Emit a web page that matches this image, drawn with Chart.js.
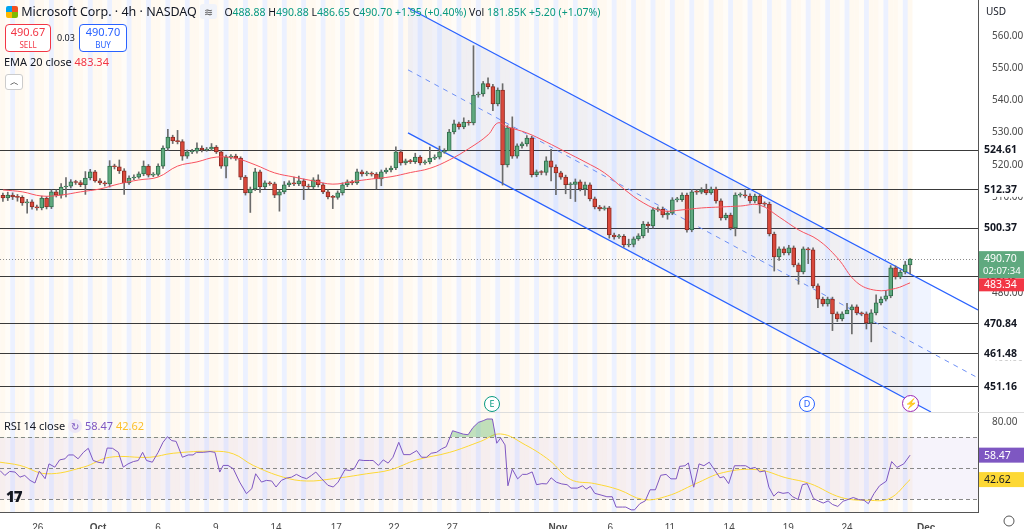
<!DOCTYPE html>
<html><head><meta charset="utf-8">
<script src="https://cdn.jsdelivr.net/npm/chart.js@4.4.1/dist/chart.umd.min.js"></script>
<style>
body{margin:0;width:1024px;height:529px;overflow:hidden;background:#fff;font-family:"Noto Sans",Roboto,sans-serif;position:relative}
#c1{position:absolute;left:0;top:0}
#c2{position:absolute;left:0;top:413px}
.ov{position:absolute;white-space:nowrap}
.g{color:#089981}
</style></head><body>
<canvas id="c1" width="1024" height="413"></canvas>
<canvas id="c2" width="1024" height="116"></canvas>
<div class="ov" style="left:6px;top:3px;font-size:12.5px;color:#131722">
<span style="display:inline-block;width:12px;height:12px;background:conic-gradient(#f25022 0 25%,#7fba00 0 50%,#ffb900 0 75%,#00a4ef 0);vertical-align:-2px;border-radius:2px"></span>
Microsoft Corp. · 4h · NASDAQ <span style="display:inline-block;background:#f0f3fa;border-radius:3px;padding:0 4px;color:#555;font-size:11px">≋</span>
<span style="font-size:10.5px;margin-left:4px">O<span class="g">488.88</span> H<span class="g">490.88</span> L<span class="g">486.65</span> C<span class="g">490.70</span> <span class="g">+1.95 (+0.40%)</span> Vol <span class="g">181.85K</span> <span class="g">+5.20 (+1.07%)</span></span></div>
<div class="ov" style="left:5px;top:24px;width:44px;height:25px;border:1px solid #f23645;border-radius:4px;background:#fff;text-align:center;color:#f23645;font-size:11px;line-height:12px;padding-top:1px">490.67<br><span style="font-size:8px">SELL</span></div>
<div class="ov" style="left:57px;top:31px;font-size:9px;color:#131722">0.03</div>
<div class="ov" style="left:79px;top:24px;width:46px;height:25px;border:1px solid #2962ff;border-radius:4px;background:#fff;text-align:center;color:#2962ff;font-size:11px;line-height:12px;padding-top:1px">490.70<br><span style="font-size:8px">BUY</span></div>
<div class="ov" style="left:4px;top:54px;font-size:11px;color:#131722">EMA 20 close <span style="color:#f23645">483.34</span></div>
<div class="ov" style="left:5px;top:74px;width:16px;height:14px;border:1px solid #ccc;border-radius:3px;background:#fff;font-size:9px;text-align:center;line-height:14px">︿</div>
<div class="ov" style="left:484px;top:396px;width:14px;height:14px;border:1px solid #089981;border-radius:50%;background:#fff;font-size:9px;text-align:center;line-height:14px;color:#089981">E</div>
<div class="ov" style="left:799px;top:396px;width:14px;height:14px;border:1px solid #2962ff;border-radius:50%;background:#fff;font-size:9px;text-align:center;line-height:14px;color:#2962ff">D</div>
<div class="ov" style="left:902px;top:395px;width:15px;height:15px;border:1.5px solid #9c27b0;border-radius:50%;background:#fff;font-size:10px;text-align:center;line-height:15px;color:#e91e63">⚡</div>
<div class="ov" style="left:4px;top:418px;font-size:11px;color:#131722">RSI 14 close <span style="display:inline-block;width:14px;height:14px;border-radius:50%;background:#ede7f6;color:#7e57c2;text-align:center;line-height:14px;font-size:10px">↻</span> <span style="color:#7e57c2">58.47</span> <span style="color:#fbc02d">42.62</span></div>
<div class="ov" style="left:6px;top:486px;font-size:15px;font-weight:900;color:#131722;letter-spacing:-1px">17</div>
<script>
// ---- data ----
const firstOpen = 510.5;
const closes = [509.7,510.6,510.0,509.9,508.2,508.5,506.9,506.6,509.7,506.9,511.6,510.6,513.1,513.4,514.7,514.5,513.8,515.9,517.8,515.0,
514.4,514.1,519.6,519.4,518.1,514.4,515.9,516.2,517.2,519.6,516.8,517.0,519.6,525.2,528.6,527.4,527.2,522.7,524.0,524.2,
525.2,524.6,524.9,525.5,524.0,519.6,522.4,522.7,522.1,516.2,511.3,512.5,517.8,513.1,514.4,514.1,510.6,511.6,513.8,514.4,
514.1,515.0,513.4,513.1,515.3,513.8,511.6,510.0,509.9,511.3,513.8,514.7,514.4,517.8,517.2,517.3,517.1,515.6,517.8,518.4,
519.0,524.0,520.6,521.2,521.0,522.4,520.6,520.9,522.1,522.4,524.0,524.3,530.2,532.7,531.8,533.3,533.0,541.7,542.0,545.2,
544.3,538.9,543.2,520.0,531.5,522.7,525.9,526.5,528.3,516.9,517.8,517.6,521.2,519.3,517.5,516.2,513.8,513.9,514.7,512.5,
513.8,509.4,506.9,506.3,506.6,498.2,497.6,497.8,495.1,495.3,497.0,497.9,501.6,501.0,506.0,506.2,504.4,505.0,509.1,509.2,
510.6,499.8,511.6,511.5,512.2,511.3,512.5,508.8,503.5,504.4,500.4,510.6,510.7,510.3,508.8,510.3,507.9,507.8,498.5,491.4,
493.9,492.6,494.2,488.9,486.7,493.9,493.6,482.4,478.3,476.8,478.3,473.7,472.1,473.7,474.9,475.9,474.0,473.7,470.9,474.0,
477.1,478.3,479.3,488.0,485.2,486.7,488.9,490.7];
const highs = [511.2,511.5,511.3,510.8,510.4,509.3,509.1,507.5,510.3,510.1,512.2,512.2,514.2,516.0,515.4,515.2,515.1,517.9,518.6,518.3,
515.7,514.9,521.3,520.2,521.5,518.8,516.6,516.9,517.8,521.2,520.1,517.6,520.3,525.9,531.0,529.2,530.7,527.8,524.6,524.8,
526.8,525.9,525.4,526.6,526.0,524.5,523.0,523.2,523.3,522.5,516.7,513.1,518.9,518.4,515.0,514.8,514.6,512.1,514.8,515.0,
516.2,516.5,515.6,514.0,516.0,516.9,514.3,512.2,510.5,511.9,514.4,515.3,515.2,518.7,518.4,518.0,517.8,517.6,518.4,519.0,
519.6,525.6,524.6,521.8,521.7,523.6,522.9,521.5,525.5,523.1,525.8,525.0,531.0,533.9,533.3,534.6,533.8,557.0,542.6,545.9,
547.0,545.0,543.9,545.2,532.2,534.9,526.5,527.1,529.1,528.9,518.4,518.2,522.5,524.8,520.0,518.0,516.8,514.5,515.6,515.3,
514.6,514.4,510.0,507.4,507.2,507.1,498.8,498.4,498.3,496.9,497.6,498.6,502.4,502.2,506.7,506.9,506.9,505.6,509.8,509.9,
511.3,511.2,512.3,512.2,512.9,514.0,513.1,513.1,509.4,505.0,505.0,511.3,511.3,512.5,511.0,510.9,510.9,508.5,508.4,499.1,
494.5,494.5,495.0,494.8,489.5,494.5,494.3,494.2,483.0,478.9,478.9,478.9,474.3,474.3,477.0,476.5,476.5,474.3,474.3,475.0,
479.6,479.0,481.0,488.7,488.6,487.3,490.0,490.9];
const lows = [508.6,508.9,509.2,508.7,507.4,505.0,506.2,505.9,506.0,506.3,506.4,510.0,509.6,510.0,512.8,513.9,513.2,510.8,515.3,514.6,
513.8,513.4,513.1,518.7,517.3,510.8,513.9,515.4,515.8,516.6,516.2,516.3,516.5,518.9,524.5,526.6,526.5,521.4,522.0,523.5,
523.6,524.0,524.2,524.4,523.5,518.9,515.9,521.8,521.4,515.4,510.6,505.2,512.0,511.4,512.6,513.6,509.8,505.6,511.0,513.2,
513.5,513.5,509.2,512.5,512.5,513.1,511.0,509.4,506.4,509.3,510.6,513.2,513.8,513.9,516.5,516.6,516.5,512.5,513.5,517.3,
517.8,518.5,519.9,520.0,520.4,520.4,520.0,520.1,520.3,521.6,521.8,523.6,528.5,529.6,531.1,531.2,532.3,532.4,541.0,541.3,
543.6,536.8,538.3,513.7,519.3,522.0,522.1,525.2,525.8,516.2,516.3,516.9,516.8,515.0,510.7,515.5,511.0,509.5,508.6,511.9,
510.5,508.8,506.3,505.7,505.9,497.2,496.9,497.1,494.4,494.5,494.5,496.5,497.3,499.0,500.3,505.5,503.7,503.1,504.5,508.5,
508.6,499.1,499.2,510.8,511.0,510.7,510.8,508.1,502.8,502.9,499.8,497.9,510.0,509.7,508.1,508.2,505.0,507.1,497.9,487.0,
490.3,492.0,492.0,488.3,482.9,486.1,489.3,481.8,475.6,476.1,476.1,468.5,471.3,471.5,474.0,467.5,473.4,473.1,469.0,465.0,
473.4,476.5,477.7,478.7,484.5,484.6,486.1,486.1];
const emaX = [0,4,8,12,16,20,24,28,32,36,40,44,48,52,56,60,64,68,72,76,80,84,88,92,96,100,102,104,108,112,116,120,124,128,132,136,140,144,148,152,156,160,164,168,172,176,180,184,187];
const emaY = [512.2,511.6,510.3,510.6,511.6,512.5,514.1,515.3,516.2,519.6,520.9,522.4,522.0,520.0,517.5,516.2,515.0,514.0,514.8,515.6,516.3,517.6,518.9,521.5,525.0,529.3,533.0,531.8,529.9,527.1,524.0,520.9,517.5,512.5,508.2,505.7,506.0,506.6,506.9,507.2,507.5,503.8,499.8,496.7,491.1,483.5,481.0,481.6,483.34];
const rsiX = [-0.6,0.4,1.4,2.5,3.5,4.5,5.6,6.6,7.5,8.7,9.5,10.7,11.7,12.8,13.5,14.5,15.5,16.6,17.6,18.6,19.6,20.7,21.5,22.6,23.8,24.8,25.8,26.9,27.9,28.8,29.6,30.8,32.0,33.0,33.9,34.8,35.7,37.0,38.2,39.2,39.9,41.3,42.7,43.7,44.7,45.4,46.4,47.5,48.8,50.2,51.3,52.1,53.3,54.3,55.4,56.3,57.4,58.5,59.5,60.5,61.6,62.6,63.6,64.5,65.7,67.0,68.1,69.1,70.5,71.5,72.4,73.4,74.4,75.5,76.3,77.4,78.4,79.4,80.4,81.6,82.6,83.9,85.3,86.3,87.3,88.3,89.4,90.4,91.4,92.7,93.8,94.9,95.9,96.9,98.0,
99.0,99.8,100.9,101.8,102.6,103.5,104.1,105.0,106.1,107.1,108.0,109.1,110.0,111.1,112.1,113.0,114.1,115.2,116.3,117.1,118.4,119.5,120.2,121.1,122.0,123.3,124.5,125.6,126.4,127.7,128.4,129.5,130.2,131.3,132.4,133.4,134.5,135.6,136.7,137.7,138.8,139.5,140.6,141.3,142.4,143.5,144.5,145.6,146.7,147.8,148.6,149.6,150.8,152.1,153.1,154.1,155.1,156.0,157.1,157.9,158.9,159.8,160.8,161.9,162.8,163.9,164.8,165.8,167.1,168.2,169.1,170.1,171.0,172.1,173.2,174.2,175.3,176.4,177.5,178.4,179.6,180.7,182.1,183.2,184.3,185.7,187.0];
const rsiV = [48.5,45.3,47.9,47.5,44.2,45.3,42.1,40.4,48.1,43.2,52.8,50.7,55.4,56.1,58.6,58.6,56.1,60.3,62.9,55.0,53.9,53.3,63.1,62.9,60.3,50.7,52.8,54.3,55.0,60.3,55.0,53.9,60.3,66.8,70.4,67.9,67.4,57.1,58.6,58.6,60.3,60.3,60.8,60.3,47.5,51.8,51.8,49.6,41.0,33.5,36.7,46.4,41.0,42.1,41.7,37.8,42.1,43.6,44.2,46.0,44.2,43.2,45.3,47.5,43.2,38.9,37.8,41.0,49.0,48.5,49.6,55.4,55.0,55.0,55.0,51.8,55.4,53.3,57.1,66.8,58.8,58.8,61.4,57.1,57.1,59.7,60.3,62.5,64.0,74.3,73.2,72.1,71.7,76.4,79.7,
80.8,81.9,81.9,66.2,69.6,65.1,38.6,49.4,43.1,46.0,46.0,47.6,39.3,40.0,39.8,43.8,40.9,39.8,39.3,37.1,37.1,38.6,36.4,38.2,33.7,32.6,31.5,31.5,24.8,24.8,24.8,23.0,23.0,27.0,28.8,36.0,36.0,45.4,46.0,43.1,43.1,51.2,51.6,53.4,37.7,52.8,51.6,53.9,48.9,43.8,44.5,40.0,51.6,51.6,51.6,49.8,50.5,47.6,48.3,37.7,31.9,34.6,33.7,34.2,31.5,29.7,39.3,40.0,30.4,28.6,27.4,28.8,26.5,25.2,28.6,29.7,31.0,29.7,29.2,27.0,33.7,38.6,41.6,54.3,50.5,52.8,58.47];
const rsiMaX = [-0.6,3.5,9.0,16.6,22.0,30.3,35.1,43.4,47.5,51.6,57.8,62.6,68.1,75.0,79.8,85.3,92.1,98.4,102.6,107.7,112.7,117.0,122.0,127.0,132.0,137.0,142.7,148.5,155.6,161.4,166.4,172.8,178.5,182.8,187.0];
const rsiMaV = [53.9,51.8,46.4,50.7,57.1,57.1,59.7,61.0,59.3,51.8,44.2,41.7,43.2,46.4,48.9,55.4,60.3,67.3,72.2,65.1,55.0,42.7,40.0,36.0,29.7,32.0,39.8,47.2,49.0,43.8,40.0,31.0,29.2,30.4,42.62];
const levels = [524.61,512.37,500.37,485.49,470.84,461.48,451.16];
const lastPrice = 490.70, emaLast = 483.34, rsiLast = 58.47, rsiMaLast = 42.62;
const chanX = [83.5,201];
const chanUpper = [568.8,474.9];
const chanMid = [549.5,453.8];
const chanLowerX = [83.5,191.3];
const chanLower = [529.9,443.2];
const tickIdx = [7.2,19.6,32,43.9,56.3,68.7,80.6,92.6,114.4,125.2,137.5,149.7,161.9,174,190.3];
const tickLabels = ['26','Oct','6','9','14','17','22','27','Nov','6','11','14','19','24','Dec'];
// ---- build ----
const XMIN=-0.6, XMAX=201;
const opens = closes.map((c,i)=> i===0 ? firstOpen : closes[i-1]);
const wick = closes.map((c,i)=>({x:i,y:[lows[i],highs[i]]}));
const body = closes.map((c,i)=>({x:i,y:[opens[i],c]}));
const up = closes.map((c,i)=>c>=opens[i]);
const fillC = up.map(u=>u?'#5fa97f':'#d9483b');
const brdC = up.map(u=>u?'#2f6e4a':'#8e2b22');
const pts=(xs,ys)=>xs.map((x,i)=>({x,y:ys[i]}));

const stripes = {id:'stripes',beforeDatasetsDraw(ch){
  const {ctx,chartArea:a,scales:{x}}=ch; const w=x.getPixelForValue(1)-x.getPixelForValue(0);
  ctx.save();
  for(let i=-1;i<188;i++){const m=((i%4)+4)%4; const px=x.getPixelForValue(i)-w/2;
    if(m===2){ctx.fillStyle='rgba(41,98,255,0.09)';ctx.fillRect(px,a.top,w,a.bottom-a.top);}
    else if(m===0||m===3){ctx.fillStyle='rgba(255,152,0,0.06)';ctx.fillRect(px,a.top,w,a.bottom-a.top);}
    else {ctx.fillStyle='rgba(255,152,0,0.03)';ctx.fillRect(px,a.top,w,a.bottom-a.top);}
  }
  ctx.restore();
  if(ch.canvas.id==='c1'){const y=ch.scales.y;ctx.save();
    ctx.strokeStyle='#3a3a3a';ctx.lineWidth=1;
    levels.forEach(v=>{const py=Math.round(y.getPixelForValue(v))+0.5;ctx.beginPath();ctx.moveTo(a.left,py);ctx.lineTo(a.right,py);ctx.stroke();});
    ctx.setLineDash([1,2]);ctx.strokeStyle='#8a8a8a';const py=Math.round(y.getPixelForValue(lastPrice))+0.5;
    ctx.beginPath();ctx.moveTo(a.left,py);ctx.lineTo(a.right,py);ctx.stroke();ctx.restore();}
  else {const y=ch.scales.y;ctx.save();
    ctx.fillStyle='rgba(126,87,194,0.07)';const t=y.getPixelForValue(70),b=y.getPixelForValue(30);ctx.fillRect(a.left,t,a.right-a.left,b-t);
    ctx.setLineDash([4,3]);ctx.strokeStyle='#888';[70,50,30].forEach(v=>{const py=Math.round(y.getPixelForValue(v))+0.5;ctx.beginPath();ctx.moveTo(a.left,py);ctx.lineTo(a.right,py);ctx.stroke();});
    ctx.restore();}
}};
function box(ctx,x,y,txt,bg,fg,bold,h){h=h||15;ctx.fillStyle=bg;ctx.fillRect(x,y-h/2,45,h);ctx.fillStyle=fg;ctx.font=(bold?'bold ':'')+'10.5px "Noto Sans",sans-serif';ctx.textBaseline='middle';ctx.textAlign='left';ctx.fillText(txt,x+5,y+0.5);}
const labels1={id:'labels1',afterDraw(ch){const {ctx,scales:{y},chartArea:a}=ch;ctx.save();
  ctx.fillStyle='#131722';ctx.font='10px "Noto Sans",sans-serif';ctx.textBaseline='middle';ctx.fillText('USD',986,12);
  levels.forEach(v=>box(ctx,979,y.getPixelForValue(v),v.toFixed(2),'#fff','#131722',true));
  const py=y.getPixelForValue(lastPrice);ctx.fillStyle='#5fa97f';ctx.fillRect(979,py-8,45,27);ctx.fillStyle='#fff';ctx.font='10.5px "Noto Sans",sans-serif';ctx.fillText('490.70',984,py);ctx.font='9.5px "Noto Sans",sans-serif';ctx.fillText('02:07:34',983,py+12);
  box(ctx,979,y.getPixelForValue(emaLast)+2,'483.34','#f23645','#fff',false,13);
  ctx.strokeStyle='#ddd';ctx.beginPath();ctx.moveTo(0,412.5);ctx.lineTo(1024,412.5);ctx.stroke();
  ctx.restore();}};
const labels2={id:'labels2',afterDraw(ch){const {ctx,scales:{y}}=ch;ctx.save();
  box(ctx,979,y.getPixelForValue(rsiLast),'58.47','#7e57c2','#fff',false);
  box(ctx,979,y.getPixelForValue(rsiMaLast),'42.62','#fdd835','#131722',false);
  ctx.strokeStyle='#555';ctx.lineWidth=1;ctx.beginPath();ctx.arc(1009,108,5,0,Math.PI*2);ctx.stroke();
  ctx.restore();}};
const yAxisCommon = {position:'right',afterFit(s){s.width=46;s.paddingTop=0;s.paddingBottom=0;},grid:{display:false},border:{color:'#555'},
  ticks:{color:'#4a4a4a',font:{size:10,family:'"Noto Sans",sans-serif'},padding:6}};
const xCommon={type:'linear',min:XMIN,max:XMAX,offset:false,grid:{display:false}};
new Chart(document.getElementById('c1'),{type:'bar',
 data:{datasets:[
  {type:'line',data:pts(chanX,chanUpper),borderColor:'#2962ff',borderWidth:1.3,pointRadius:0,order:10,fill:false},
  {type:'line',data:pts(chanLowerX,chanLower),borderColor:'#2962ff',borderWidth:1.3,pointRadius:0,order:10,fill:'-1',backgroundColor:'rgba(41,98,255,0.07)'},
  {type:'line',data:pts(chanX,chanMid),borderColor:'#6d8ff5',borderWidth:1,borderDash:[5,5],pointRadius:0,order:9},
  {type:'line',data:pts(emaX,emaY),borderColor:'#f7525f',borderWidth:1,pointRadius:0,tension:0.4,order:2},
  {data:wick,backgroundColor:'#6b6b6b',barThickness:1,grouped:false,order:4},
  {data:body,backgroundColor:fillC,borderColor:brdC,borderWidth:1,borderSkipped:false,barThickness:4,grouped:false,minBarLength:1,order:3}
 ]},
 options:{responsive:false,animation:false,events:[],layout:{padding:0},
  plugins:{legend:{display:false},tooltip:{enabled:false}},
  scales:{x:{...xCommon,display:false},
   y:{...yAxisCommon,min:442.9,max:571.2,afterBuildTicks(s){s.ticks=[460,470,480,490,500,510,520,530,540,550,560].map(v=>({value:v}));},
      ticks:{...yAxisCommon.ticks,callback:v=>v.toFixed(2)}}}},
 plugins:[stripes,labels1]});
new Chart(document.getElementById('c2'),{type:'line',
 data:{datasets:[
  {data:pts(rsiX,rsiV),borderColor:'#7e57c2',borderWidth:1,pointRadius:0,fill:{target:{value:70},above:'rgba(76,175,80,0.35)',below:'rgba(0,0,0,0)'}},
  {data:pts(rsiMaX,rsiMaV),borderColor:'#fdd835',borderWidth:1,pointRadius:0,tension:0.4}
 ]},
 options:{responsive:false,animation:false,events:[],layout:{padding:0},
  plugins:{legend:{display:false},tooltip:{enabled:false}},
  scales:{x:{...xCommon,afterFit(s){s.height=17;},border:{color:'#555'},
     afterBuildTicks(s){s.ticks=tickIdx.map(v=>({value:v}));},
     ticks:{autoSkip:false,maxRotation:0,padding:2,color:'#4a4a4a',font:c=>({size:10,weight:/[A-Z]/.test(tickLabels[c.index]||'')?'bold':'normal'}),
       callback:(v,i)=>tickLabels[i]}},
   y:{...yAxisCommon,min:21.6,max:85.8,afterBuildTicks(s){s.ticks=[{value:80}];},ticks:{...yAxisCommon.ticks,callback:v=>v.toFixed(2)}}}},
 plugins:[stripes,labels2]});
</script></body></html>
